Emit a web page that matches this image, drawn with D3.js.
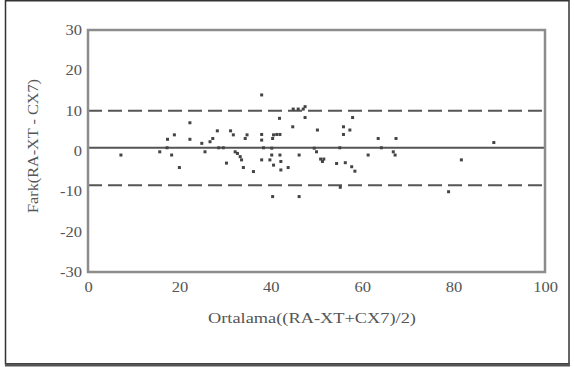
<!DOCTYPE html>
<html><head><meta charset="utf-8">
<script src="https://cdn.jsdelivr.net/npm/d3@7"></script>
<style>body{margin:0;background:#fff}svg{display:block}</style>
</head><body>
<svg id="c" width="574" height="367"></svg>
<script>
const points = [
[7.2,-1.0],[15.7,-0.2],[17.3,0.8],[17.4,2.9],[18.3,-1.0],[18.9,4.0],[20.0,-4.1],[22.3,7.0],[22.3,2.9],
[24.9,1.9],[25.6,-0.2],[26.7,2.3],[27.3,3.1],[28.3,5.0],[28.6,0.8],[29.6,0.8],[30.3,-3.0],[31.2,5.0],
[31.8,4.0],[32.2,-0.2],[32.7,-0.6],[33.3,-1.4],[33.6,-2.2],[34.0,-4.1],[34.4,3.1],[34.8,4.0],[36.2,-5.1],
[38.0,13.9],[38.0,4.1],[38.0,2.7],[38.4,0.8],[38.0,-2.2],[39.8,-2.2],[40.2,-1.0],[40.2,0.7],[40.4,3.1],
[40.6,4.0],[41.3,4.1],[42.0,4.1],[40.6,-3.5],[42.2,-2.6],[42.2,-4.7],[43.8,-4.1],[42.0,-1.0],[41.9,8.1],
[40.4,-11.3],[44.8,6.0],[44.9,10.4],[46.0,10.4],[47.1,10.4],[47.5,11.0],[47.5,8.3],[46.2,-1.0],[46.2,-11.3],
[49.5,0.7],[50.0,-0.2],[50.2,5.2],[50.9,-2.0],[51.3,-2.6],[51.6,-2.0],[55.1,0.8],[54.4,-3.1],[56.3,-2.9],
[55.2,-9.0],[55.9,6.0],[55.9,4.1],[57.3,5.2],[57.9,8.3],[57.7,-3.9],[58.4,-5.0],[61.3,-1.0],[63.5,3.1],
[64.2,0.8],[66.8,-0.2],[67.2,-1.0],[67.4,3.1],[78.9,-10.1],[81.7,-2.2],[88.8,2.1]
];
const meanDiff = 0.8;
const limits = [10.0, -8.5];
const xTicks = [0,20,40,60,80,100];
const yTicks = [-30,-20,-10,0,10,20,30];
const xTitle = "Ortalama((RA-XT+CX7)/2)";
const yTitle = "Fark(RA-XT - CX7)";

const svg = d3.select("#c");
const L=88, R=545, T=30, B=272;
const x = d3.scaleLinear().domain([0,100]).range([L,R]);
const y = d3.scaleLinear().domain([-30,30]).range([B,T]);
const txt = "#555", font = "Liberation Serif";

// outer frame
svg.append("rect").attr("x",5.5).attr("y",0.75).attr("width",563.5).attr("height",363)
  .attr("fill","none").attr("stroke","#333").attr("stroke-width",1.5);
svg.append("line").attr("x1",5).attr("x2",570).attr("y1",365).attr("y2",365)
  .attr("stroke","#555").attr("stroke-width",3);

// reference lines
svg.append("line").attr("x1",x(0)).attr("x2",x(100)).attr("y1",y(meanDiff)).attr("y2",y(meanDiff))
  .attr("stroke","#555").attr("stroke-width",1.8);
svg.selectAll("line.lim").data(limits).enter().append("line").attr("class","lim")
  .attr("x1",x(0)).attr("x2",x(100)).attr("y1",d=>y(d)).attr("y2",d=>y(d))
  .attr("stroke","#555").attr("stroke-width",2).attr("stroke-dasharray","14,6");

// points
svg.selectAll("rect.pt").data(points).enter().append("rect").attr("class","pt")
  .attr("x",d=>x(d[0])-1.5).attr("y",d=>y(d[1])-1.5).attr("width",3).attr("height",3)
  .attr("fill","#444");

// plot frame
svg.append("rect").attr("x",L).attr("y",T).attr("width",R-L).attr("height",B-T)
  .attr("fill","none").attr("stroke","#8c8c8c").attr("stroke-width",2.5);

// axes
const xa = svg.append("g").attr("transform",`translate(0,${B})`)
  .call(d3.axisBottom(x).tickValues(xTicks).tickSize(0).tickPadding(10).tickFormat(d=>String(d)));
const ya = svg.append("g").attr("transform",`translate(${L},0)`)
  .call(d3.axisLeft(y).tickValues(yTicks).tickSize(0).tickPadding(6).tickFormat(d=>String(d)));
[xa,ya].forEach(g=>{
  g.select(".domain").remove();
  g.attr("font-family",font);
  g.selectAll("text").style("font-family",font).attr("font-size",14).attr("fill",txt)
   .each(function(){ const w=this.getComputedTextLength(); d3.select(this).attr("textLength",w*1.18).attr("lengthAdjust","spacingAndGlyphs"); });
});

// titles
svg.append("text").attr("x",312).attr("y",323).attr("text-anchor","middle")
  .style("font-family",font).attr("font-size",14).attr("fill",txt)
  .attr("textLength",208).attr("lengthAdjust","spacingAndGlyphs").text(xTitle);
svg.append("text").attr("transform","translate(38,146) rotate(-90)").attr("text-anchor","middle")
  .style("font-family",font).attr("font-size",14).attr("fill",txt)
  .attr("textLength",134).attr("lengthAdjust","spacingAndGlyphs").text(yTitle);
</script>
</body></html>
